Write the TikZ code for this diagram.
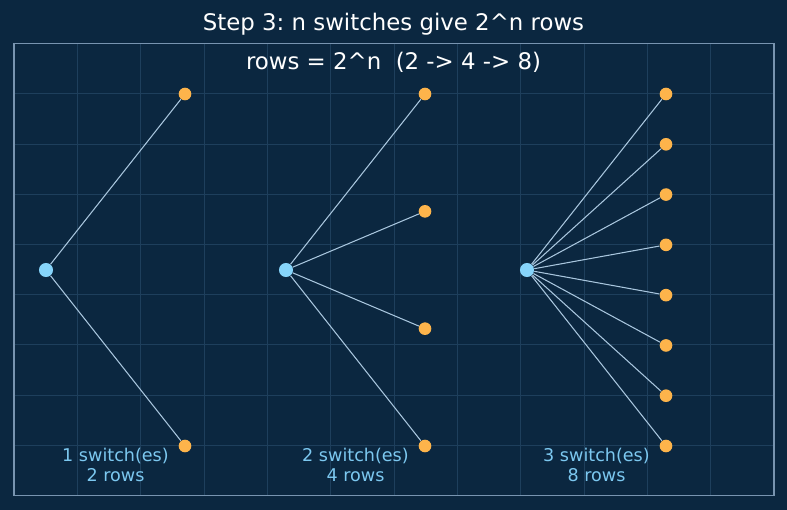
\documentclass[tikz,border=0pt]{standalone}
\usepackage{fontspec}
\setmainfont{DejaVu Sans}
\frenchspacing

\definecolor{bgnavy}{HTML}{0B2740}
\definecolor{gridnavy}{HTML}{1E3F5C}
\definecolor{framegray}{HTML}{7894B0}
\definecolor{rootblue}{HTML}{86D4FA}
\definecolor{leaforange}{HTML}{FDB44B}
\definecolor{branchgray}{HTML}{A9C6DE}
\definecolor{labelblue}{HTML}{7CC8F0}

\tikzset{
  rootdot/.style={circle, fill=rootblue, minimum size=8pt, inner sep=0pt},
  leafdot/.style={circle, fill=leaforange, minimum size=7.2pt, inner sep=0pt},
  branch/.style={draw=branchgray, line width=0.6pt},
  countlabel/.style={align=center, text=labelblue, font=\fontsize{10}{11.4}\selectfont}
}

\begin{document}
\begin{tikzpicture}[x=0.02cm, y=-0.02cm, >=latex]

% Background and frame
\fill[bgnavy] (0,0) rectangle (787,510);
\foreach \i in {1,...,11}
  \draw[gridnavy, line width=0.4pt] ({14+\i*63.33},43.5) -- ({14+\i*63.33},495.5);
\foreach \j in {1,...,8}
  \draw[gridnavy, line width=0.4pt] (14,{43.5+\j*50.22}) -- (774,{43.5+\j*50.22});
\draw[framegray, line width=0.8pt] (14,43.5) rectangle (774,495.5);

% Titles
\node[white, font=\fontsize{13}{15}\selectfont] (title) at (393.5,24.5) {Step 3: n switches give 2\textasciicircum n rows};
\node[white, font=\fontsize{13}{15}\selectfont] (formula) at (393.5,62) {rows = 2\textasciicircum n\ \ (2 -> 4 -> 8)};

% The three fans: root, leaves, branches
\foreach \g/\rx/\lx/\n in {1/46/185/2, 2/286/425/4, 3/527/666/8} {
  \node[rootdot] (root\g) at (\rx,270) {};
  \foreach \k in {1,...,\n} {
    \node[leafdot] (leaf\g-\k) at (\lx,{94+(\k-1)*352/(\n-1)}) {};
    \draw[branch] (root\g) -- (leaf\g-\k);
  }
  \node[countlabel] (count\g) at ({(\rx+\lx)/2},465) {\g\ switch(es)\\\n\ rows};
}
\end{tikzpicture}
\end{document}
